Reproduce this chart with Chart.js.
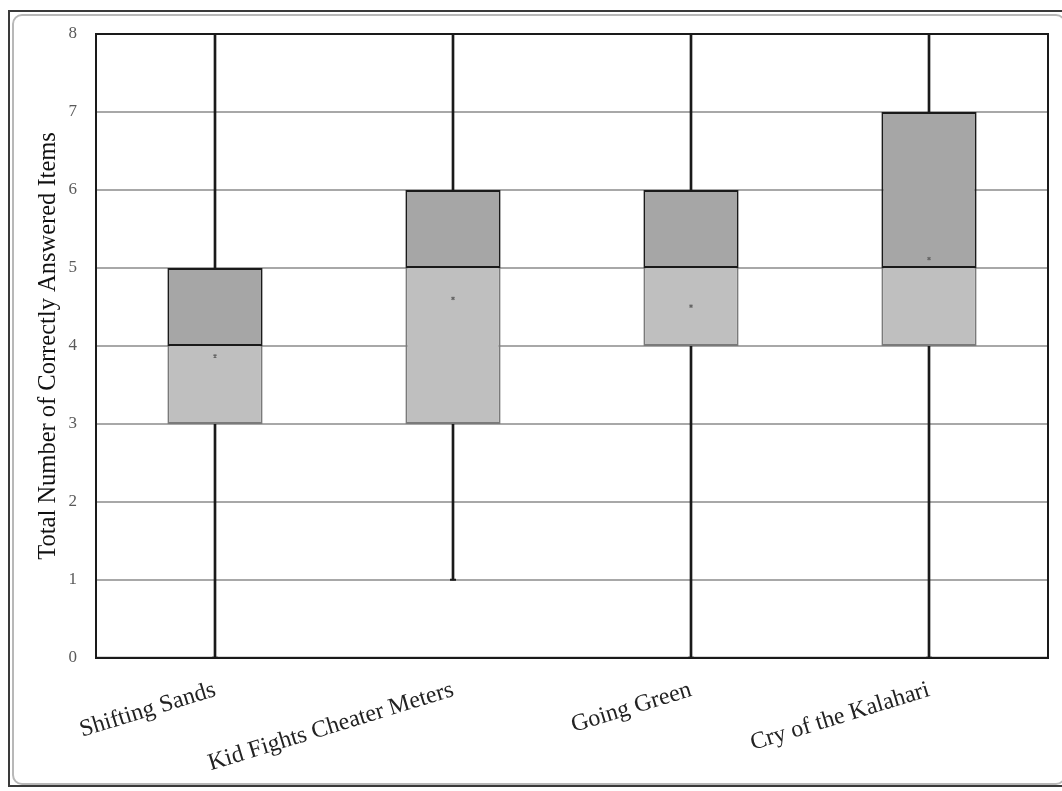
<!DOCTYPE html>
<html>
<head>
<meta charset="utf-8">
<script src="https://cdn.jsdelivr.net/npm/chart.js@4/dist/chart.umd.min.js"></script>
<style>
  html, body { margin: 0; padding: 0; background: #fff; }
  .frame {
    position: absolute; left: 8px; top: 10px; width: 1060px; height: 777px;
    border: 2px solid #3a3a3a; border-right: none; box-sizing: border-box;
  }
  .frame-inner {
    position: absolute; left: 2px; top: 2px; right: 2px; bottom: 0px;
    border: 2px solid #b8b8b8; border-radius: 10px;
  }
  .wrap { position: absolute; left: 0; top: 0; width: 1062px; height: 791px; }
</style>
</head>
<body>
<div class="frame"><div class="frame-inner"></div></div>
<div class="wrap"><canvas id="boxChart"></canvas></div>
<script>
// 교재별 정답 개수 분포
const categories = ["Shifting Sands", "Kid Fights Cheater Meters", "Going Green", "Cry of the Kalahari"];
const minValues = [0, 1, 0, 0];
const q1Values = [3, 3, 4, 4];
const medianValues = [4, 5, 5, 5];
const q3Values = [5, 6, 6, 7];
const maxValues = [8, 8, 8, 8];
const meanValues = [3.87, 4.61, 4.51, 5.12];
const yTicks = [0, 1, 2, 3, 4, 5, 6, 7, 8];

const serif = "'Liberation Serif', 'Times New Roman', serif";

// 플롯 영역 테두리
const plotFrame = {
  id: "plotFrame",
  afterDatasetsDraw(chart) {
    const { ctx, chartArea } = chart;
    ctx.save();
    ctx.strokeStyle = "#1a1a1a";
    ctx.lineWidth = 2;
    ctx.strokeRect(chartArea.left, chartArea.top, chartArea.right - chartArea.left, chartArea.bottom - chartArea.top);
    ctx.restore();
  }
};

const lowerBox = categories.map((c, i) => [q1Values[i], medianValues[i]]);
const upperBox = categories.map((c, i) => [medianValues[i], q3Values[i]]);
const lowerWhisker = categories.map((c, i) => [minValues[i], q1Values[i]]);
const upperWhisker = categories.map((c, i) => [q3Values[i], maxValues[i]]);

const whiskerStyle = {
  backgroundColor: "#1a1a1a",
  barThickness: 2,
  grouped: false,
  order: 3
};

new Chart(document.getElementById("boxChart"), {
  type: "bar",
  data: {
    labels: categories,
    datasets: [
      {
        label: "mean",
        type: "line",
        data: meanValues,
        showLine: false,
        pointStyle: "crossRot",
        pointRadius: 2,
        borderColor: "#666",
        backgroundColor: "#666",
        borderWidth: 1.5,
        order: 0
      },
      {
        label: "caps",
        type: "line",
        data: minValues,
        showLine: false,
        pointStyle: "line",
        pointRadius: 3,
        borderColor: "#1a1a1a",
        borderWidth: 2,
        order: 0
      },
      {
        label: "upper",
        data: upperBox,
        backgroundColor: "#a6a6a6",
        borderColor: "#1a1a1a",
        borderWidth: 2,
        borderSkipped: false,
        grouped: false,
        order: 1
      },
      {
        label: "lower",
        data: lowerBox,
        backgroundColor: "#bfbfbf",
        borderColor: "#7a7a7a",
        borderWidth: 2,
        borderSkipped: "top",
        grouped: false,
        order: 2
      },
      { label: "whiskerLow", data: lowerWhisker, ...whiskerStyle },
      { label: "whiskerHigh", data: upperWhisker, ...whiskerStyle }
    ]
  },
  options: {
    responsive: true,
    maintainAspectRatio: false,
    animation: false,
    datasets: { bar: { categoryPercentage: 1, barPercentage: 0.4 } },
    layout: { padding: { left: 26, top: 34, right: 14, bottom: 3 } },
    plugins: { legend: { display: false }, tooltip: { enabled: false } },
    scales: {
      x: {
        grid: { display: false },
        border: { color: "#1a1a1a", width: 2 },
        afterFit: (axis) => { axis.paddingLeft = 0; axis.paddingRight = 0; },
        ticks: {
          color: "#222",
          font: { family: serif, size: 24 },
          minRotation: 17,
          maxRotation: 17,
          padding: 10
        }
      },
      y: {
        min: 0,
        max: 8,
        afterBuildTicks: (axis) => { axis.ticks = yTicks.map(v => ({ value: v })); },
        afterFit: (axis) => { axis.width = 70; },
        grid: { color: "#a8a8a8", lineWidth: 2, drawTicks: false },
        border: { color: "#1a1a1a", width: 2 },
        ticks: {
          color: "#5a5a5a",
          font: { family: serif, size: 17 },
          padding: 19
        },
        title: {
          display: true,
          text: "Total Number of Correctly Answered Items",
          color: "#111",
          font: { family: serif, size: 24.5 },
          padding: { top: 8, bottom: 6 }
        }
      }
    }
  },
  plugins: [plotFrame]
});
</script>
</body>
</html>
